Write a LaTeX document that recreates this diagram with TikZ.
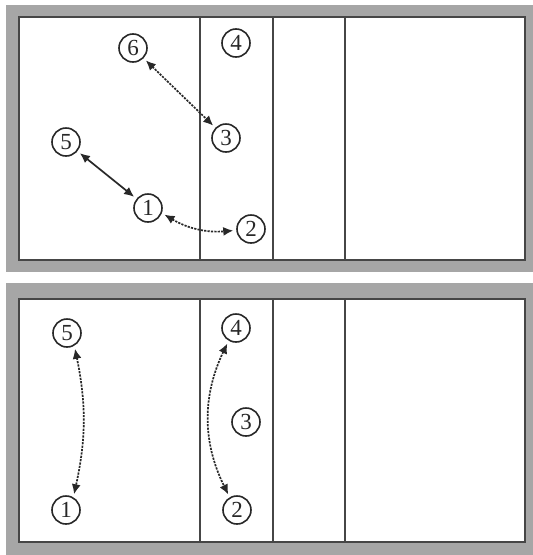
\documentclass[tikz,border=0pt]{standalone}
\usepackage{fontspec}
\setmainfont{Liberation Serif}
\usetikzlibrary{arrows.meta}
\definecolor{border}{RGB}{166,166,166}
\definecolor{court}{RGB}{70,70,70}
\definecolor{ink}{RGB}{40,40,40}
\tikzset{
  player/.style={circle, draw=ink, line width=1.6pt, minimum size=28pt, inner sep=0pt,
    text=ink, font=\fontsize{23}{23}\selectfont},
  courtline/.style={draw=court, line width=2pt},
  solidarrow/.style={ink, line width=1.7pt, {Latex[length=10pt,width=9pt]}-{Latex[length=10pt,width=9pt]}, shorten <=3pt, shorten >=3pt},
  dotarrow/.style={solidarrow, dash pattern=on 2.2pt off 1.2pt}
}
\begin{document}
\begin{tikzpicture}[x=1pt,y=-1pt]
\useasboundingbox (0,0) rectangle (533,555);
% top panel
\fill[border] (6,5) rectangle (533,272);
\filldraw[fill=white, courtline] (19,17) rectangle (525,260);
\draw[courtline] (200,17) -- (200,260);
\draw[courtline] (273,17) -- (273,260);
\draw[courtline] (345,17) -- (345,260);
% bottom panel
\fill[border] (6,283) rectangle (533,555);
\filldraw[fill=white, courtline] (19,299) rectangle (525,542);
\draw[courtline] (200,299) -- (200,542);
\draw[courtline] (273,299) -- (273,542);
\draw[courtline] (345,299) -- (345,542);
% top players
\node[player] (t6) at (133,48) {6};
\node[player] (t4) at (236,43) {4};
\node[player] (t3) at (226,138) {3};
\node[player] (t5) at (66,142) {5};
\node[player] (t1) at (148,208) {1};
\node[player] (t2) at (251,229) {2};
\draw[dotarrow] (t6) -- (t3);
\draw[solidarrow] (t5) -- (t1);
\draw[dotarrow] (t1.-20) to[bend right=18] (t2.185);
% bottom players
\node[player] (b5) at (67,333) {5};
\node[player] (b4) at (236,328) {4};
\node[player] (b3) at (246,422) {3};
\node[player] (b1) at (66,510) {1};
\node[player] (b2) at (237,510) {2};
\draw[dotarrow] (b5.-60) to[bend left=12] (b1.60);
\draw[dotarrow] (b4.240) to[bend right=26] (b2.120);
\end{tikzpicture}
\end{document}
